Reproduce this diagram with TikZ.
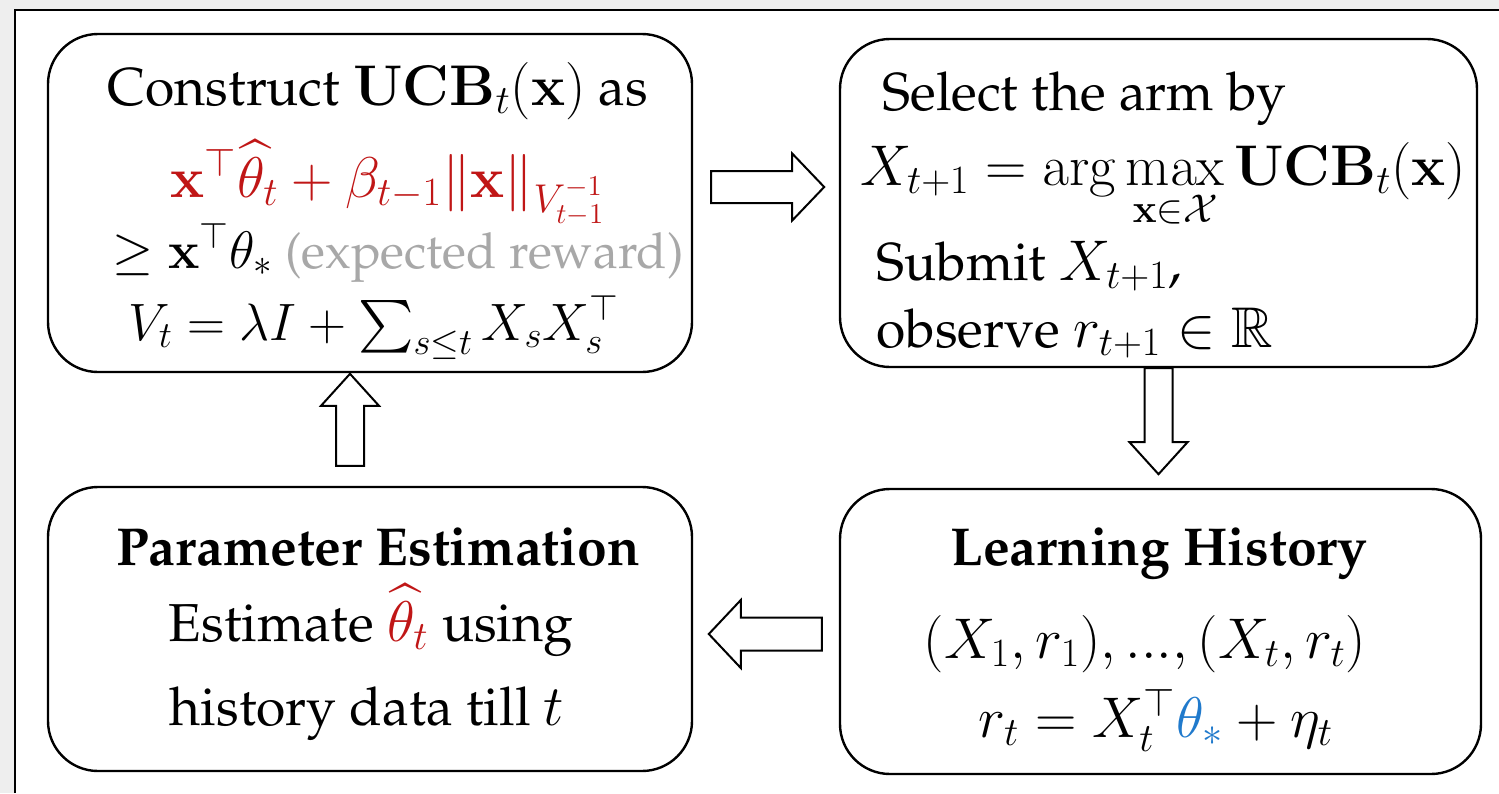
\RequirePackage{fix-cm}
\documentclass[tikz,border=0pt]{standalone}
\usepackage{amsmath,amssymb}
\usepackage[T1]{fontenc}
\renewcommand{\rmdefault}{ppl}
\DeclareMathSizes{26.7}{28.7}{20.1}{14.4}
\DeclareMathSizes{24.8}{26.4}{18.5}{13.2}
\definecolor{ucbred}{RGB}{192,22,22}
\definecolor{thetablue}{RGB}{32,122,204}
\definecolor{notegray}{RGB}{168,168,168}
\definecolor{pagegray}{RGB}{238,238,238}
\newcommand{\bigfont}{\fontsize{26.7}{32}\selectfont}
% hollow block arrow: tail, angle, length, half shaft, half head
\newcommand{\hollowarrow}[5]{%
  \draw[arrowbody, shift={(#1)}, rotate=#2] (0,-#4) -- ({#3-32},-#4) -- ({#3-32},-#5)
    -- (#3,0) -- ({#3-32},#5) -- ({#3-32},#4) -- (0,#4) -- cycle;}
\tikzset{
  stagebox/.style={draw, line width=1.2pt, rounded corners=25pt, inner sep=0pt},
  line/.style={anchor=base, inner sep=0pt, font=\bigfont},
  lline/.style={anchor=base west, inner sep=0pt, font=\bigfont},
  arrowbody/.style={draw, fill=white, line width=1pt, line join=miter}
}
\begin{document}
\begin{tikzpicture}[x=0.5pt, y=-0.5pt]
    \useasboundingbox (0,0) rectangle (1499,793);
    \fill[pagegray] (0,0) rectangle (1499,793);
    \fill[white] (15,10) rectangle (1499,793);
    \draw[line width=1pt] (15,793) -- (15,10) -- (1499,10);

    % the four stages
    \node[stagebox, minimum width=322pt, minimum height=169pt] (ucb) at (370,203) {};
    \node[stagebox, minimum width=318.5pt, minimum height=164pt] (arm) at (1158.5,203) {};
    \node[stagebox, minimum width=322pt, minimum height=142pt] (est) at (370,629) {};
    \node[stagebox, minimum width=320.5pt, minimum height=142.5pt] (hist) at (1160.5,631.5) {};

    % upper confidence bound
    \node[line] (ucb1) at (378,105) {Construct $\mathbf{UCB}_t(\mathbf{x})$ as};
    \node[line, text=ucbred] (ucb2) at (388,197)
        {$\mathbf{x}^\top\widehat{\theta}_t+\beta_{t-1}\|\mathbf{x}\|_{V_{t-1}^{-1}}$};
    \node[line, font=\fontsize{24.8}{30}\selectfont] (ucb3) at (398,268)
        {$\geq\mathbf{x}^\top\theta_*$ \textcolor{notegray}{(expected reward)}};
    \node[line, font=\fontsize{26.3}{32}\selectfont] (ucb4) at (374,340)
        {$V_t=\lambda I+\sum_{s\leq t}X_sX_s^\top$};

    % arm selection
    \node[lline] (arm1) at (882,110) {Select the arm by};
    \node[lline] (arm2) at (860,185)
        {$X_{t+1}=\arg\max\limits_{\mathbf{x}\in\mathcal{X}}\mathbf{UCB}_t(\mathbf{x})$};
    \node[lline] (arm3) at (876,280) {Submit $X_{t+1}$,};
    \node[lline] (arm4) at (876,347) {observe $r_{t+1}\in\mathbb{R}$};

    % estimation
    \node[line] (est1) at (378,565) {\textbf{Parameter Estimation}};
    \node[line] (est2) at (371,641) {Estimate $\textcolor{ucbred}{\widehat{\theta}_t}$ using};
    \node[line] (est3) at (367,725) {history data till $t$};

    % history
    \node[line] (hist1) at (1159,565) {\textbf{Learning History}};
    \node[line] (hist2) at (1145,658) {$(X_1,r_1),...,(X_t,r_t)$};
    \node[line] (hist3) at (1156,737) {$r_t=X_t^\top\textcolor{thetablue}{\theta_*}+\eta_t$};

    % arrows between the stages
    \coordinate (toarm) at ([xshift=9pt,yshift=8pt]ucb.east);
    \coordinate (tohist) at (arm.south);
    \coordinate (toest) at ([xshift=-8.5pt,yshift=-1.25pt]hist.west);
    \coordinate (toucb) at ([xshift=-10pt,yshift=10pt]est.north);
    \hollowarrow{toarm}{0}{113}{16}{33.5}
    \hollowarrow{tohist}{-90}{106}{14}{29}
    \hollowarrow{toest}{180}{113}{16.5}{34}
    \hollowarrow{toucb}{90}{92}{14}{29}
\end{tikzpicture}
\end{document}
